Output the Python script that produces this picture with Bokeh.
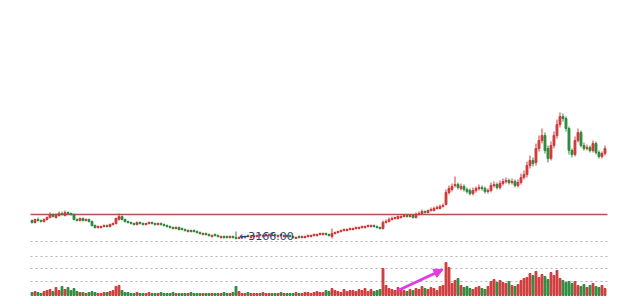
from bokeh.plotting import figure
from bokeh.models import Range1d, Arrow, NormalHead, ColumnDataSource
from bokeh.core.properties import value
from bokeh.embed import file_html
from bokeh.resources import INLINE

# ---- data ----
opens = [
    3356,3336,3366,3356,3346,3366,3386,3416,3386,3406,
    3426,3406,3436,3426,3416,3366,3356,3376,3356,3366,
    3346,3306,3286,3286,3296,3306,3296,3316,3326,3366,
    3396,3366,3346,3336,3326,3316,3336,3326,3316,3326,
    3336,3326,3316,3326,3316,3306,3296,3286,3276,3286,
    3276,3266,3246,3256,3256,3246,3236,3216,3226,3216,
    3196,3216,3206,3186,3196,3196,3186,3196,3186,3176,
    3186,3186,3206,3186,3196,3196,3216,3196,3206,3206,
    3226,3216,3196,3216,3196,3206,3206,3196,3176,3196,
    3186,3186,3196,3196,3206,3206,3216,3216,3226,3216,
    3196,3226,3236,3246,3256,3256,3266,3266,3276,3276,
    3286,3286,3296,3296,3306,3296,3286,3276,3336,3346,
    3366,3376,3376,3386,3396,3406,3396,3406,3386,3416,
    3426,3446,3436,3456,3456,3476,3476,3496,3516,3636,
    3666,3706,3716,3676,3696,3666,3656,3626,3656,3676,
    3686,3676,3646,3656,3706,3716,3686,3726,3746,3756,
    3736,3746,3706,3736,3786,3816,3906,3956,3936,4076,
    4156,4206,4076,3976,4106,4206,4316,4396,4376,4276,
    4056,4016,4156,4236,4106,4076,4086,4056,4126,4036,
    3996,4026,
]
closes = [
    3336,3366,3356,3346,3366,3386,3416,3396,3406,3426,
    3416,3436,3426,3416,3366,3356,3376,3356,3366,3346,
    3306,3286,3296,3296,3306,3296,3316,3326,3376,3396,
    3366,3346,3336,3326,3316,3336,3326,3316,3326,3336,
    3326,3316,3326,3316,3306,3296,3286,3276,3286,3266,
    3266,3256,3256,3246,3246,3236,3226,3226,3216,3206,
    3206,3206,3196,3196,3186,3186,3196,3186,3176,3186,
    3196,3196,3196,3196,3206,3206,3206,3206,3216,3216,
    3216,3206,3206,3206,3206,3196,3196,3186,3186,3186,
    3196,3196,3206,3206,3216,3216,3226,3226,3216,3206,
    3226,3236,3246,3256,3266,3266,3276,3276,3286,3286,
    3296,3296,3306,3306,3296,3286,3276,3336,3346,3366,
    3376,3386,3396,3396,3406,3396,3406,3386,3416,3426,
    3446,3436,3456,3466,3476,3486,3496,3506,3636,3676,
    3696,3716,3686,3696,3666,3646,3626,3656,3676,3686,
    3676,3646,3656,3706,3716,3686,3726,3746,3756,3736,
    3746,3706,3736,3786,3816,3906,3956,3926,4076,4156,
    4206,4056,3976,4106,4206,4316,4396,4376,4276,4056,
    4016,4156,4236,4106,4076,4086,4056,4126,4036,3996,
    4026,4076,
]
highs = [
    3366,3376,3386,3366,3376,3396,3436,3426,3426,3446,
    3446,3456,3446,3436,3426,3376,3386,3386,3376,3376,
    3356,3316,3306,3306,3316,3316,3326,3336,3386,3426,
    3406,3376,3356,3346,3336,3346,3346,3336,3336,3346,
    3346,3336,3336,3336,3326,3316,3306,3296,3296,3296,
    3286,3276,3266,3266,3266,3256,3246,3236,3236,3226,
    3216,3226,3216,3206,3206,3206,3206,3206,3246,3196,
    3206,3206,3216,3206,3216,3216,3226,3216,3226,3226,
    3236,3226,3216,3226,3216,3216,3216,3206,3196,3206,
    3206,3206,3216,3216,3226,3226,3236,3236,3236,3226,
    3276,3246,3256,3266,3276,3276,3286,3286,3296,3296,
    3306,3306,3316,3316,3316,3306,3296,3356,3366,3386,
    3396,3396,3406,3406,3416,3416,3416,3416,3436,3446,
    3466,3456,3466,3486,3496,3506,3516,3526,3666,3706,
    3726,3796,3736,3726,3716,3686,3676,3686,3696,3716,
    3706,3696,3676,3736,3746,3736,3756,3776,3786,3776,
    3776,3766,3766,3826,3856,3946,4006,3986,4126,4206,
    4276,4236,4106,4146,4246,4366,4436,4426,4396,4296,
    4076,4196,4276,4256,4136,4116,4106,4156,4146,4056,
    4046,4106,
]
lows = [
    3326,3326,3346,3336,3336,3356,3376,3386,3376,3396,
    3406,3396,3416,3406,3356,3346,3346,3346,3346,3336,
    3296,3276,3276,3276,3286,3286,3286,3306,3316,3356,
    3356,3336,3326,3316,3306,3306,3316,3306,3306,3316,
    3316,3306,3306,3306,3296,3286,3276,3266,3266,3256,
    3256,3246,3236,3236,3236,3226,3216,3206,3206,3196,
    3186,3196,3186,3176,3176,3176,3176,3176,3166,3170,
    3176,3176,3186,3176,3186,3186,3196,3186,3196,3196,
    3206,3196,3186,3196,3186,3186,3186,3176,3170,3176,
    3176,3176,3186,3186,3196,3196,3206,3206,3206,3196,
    3176,3216,3226,3236,3246,3246,3256,3256,3266,3266,
    3276,3276,3286,3286,3286,3276,3266,3266,3326,3336,
    3356,3366,3366,3376,3386,3386,3386,3376,3376,3406,
    3416,3426,3426,3446,3446,3466,3466,3486,3506,3616,
    3646,3686,3666,3656,3646,3626,3606,3606,3636,3656,
    3656,3626,3626,3636,3686,3666,3666,3706,3726,3716,
    3716,3686,3686,3716,3766,3786,3876,3896,3906,4046,
    4126,4026,3936,3956,4076,4176,4286,4346,4246,4016,
    3986,3996,4136,4086,4056,4056,4036,4036,4016,3976,
    3976,4006,
]
volumes = [
    30,40,30,20,40,50,60,40,80,50,
    90,60,80,50,70,40,30,30,20,30,
    40,30,20,20,30,30,40,50,90,100,
    50,30,30,20,20,30,20,20,20,30,
    20,20,20,30,20,20,20,30,20,20,
    20,20,20,30,20,20,20,20,20,20,
    20,20,20,20,30,20,20,30,90,40,
    20,20,30,20,20,20,20,30,20,20,
    20,20,20,30,20,20,20,20,30,20,
    20,30,30,20,30,40,30,30,50,40,
    70,50,40,30,60,40,50,50,40,60,
    50,70,40,60,40,50,60,270,100,70,
    60,50,80,60,50,40,60,50,70,60,
    90,70,60,80,70,50,90,100,330,280,
    120,150,170,100,80,90,70,60,80,90,
    70,60,90,140,160,130,150,130,120,140,
    100,90,110,150,170,180,220,200,240,180,
    210,190,160,230,200,250,170,150,130,140,
    120,140,100,90,110,80,100,120,90,80,
    100,70,
]
resistance_level = 3416
indicator_levels = [540, 390, 270, 140]
arrow_from = (122, 50)
arrow_to = (137, 260)

N = len(closes)
idx = list(range(N))
RED = "#d03a3a"
GREEN = "#2e8a3e"
colors = [RED if c >= o else GREEN for o, c in zip(opens, closes)]
tops = [max(o, c) for o, c in zip(opens, closes)]
bots = [min(o, c) for o, c in zip(opens, closes)]

src = ColumnDataSource(dict(x=idx, o=opens, c=closes, h=highs, l=lows,
                            top=tops, bot=bots, v=volumes, color=colors))

p = figure(width=620, height=304, output_backend="svg", toolbar_location=None,
           x_range=Range1d(-10.5, 196.17), y_range=Range1d(2516, 5556),
           min_border=0, min_border_left=0, min_border_right=0,
           min_border_top=0, min_border_bottom=0)
p.xaxis.visible = False
p.yaxis.visible = False
p.xgrid.visible = False
p.ygrid.visible = False
p.outline_line_color = None
p.background_fill_color = "white"
p.border_fill_color = "white"
p.extra_y_ranges = {"vol": Range1d(-90, 2950)}

x0, x1 = -0.5, N - 0.17

# indicator dashed levels
for lv in indicator_levels:
    p.line([x0, x1], [lv, lv], y_range_name="vol", line_color="#b4b4b4",
           line_width=1, line_dash="2 3")

# volume bars
p.vbar(x="x", top="v", bottom=0, width=0.62, color="color", source=src,
       y_range_name="vol")

# resistance line
p.line([x0, x1], [resistance_level, resistance_level], line_color="#b5504e",
       line_width=1.6)

# candles
p.segment(x0="x", y0="h", x1="x", y1="l", color="color", line_width=1, source=src)
p.vbar(x="x", top="top", bottom="bot", width=0.62, color="color", source=src)

# low label
low_i = min(range(N), key=lambda i: lows[i])
low_v = lows[low_i]
p.text(x=[low_i], y=[low_v], text=["\u2190%.2f" % low_v], text_font=value("DejaVu Sans"),
       text_font_size="11px", text_color="#3a3a7a", text_baseline="middle",
       text_align="left", x_offset=3, y_offset=-3)

# magenta arrow
p.add_layout(Arrow(end=NormalHead(size=9, fill_color="#e03ce0", line_color="#e03ce0"),
                   x_start=arrow_from[0], y_start=arrow_from[1],
                   x_end=arrow_to[0], y_end=arrow_to[1], y_range_name="vol",
                   line_color="#e03ce0", line_width=3))

open("out.html", "w").write(file_html(p, INLINE))
